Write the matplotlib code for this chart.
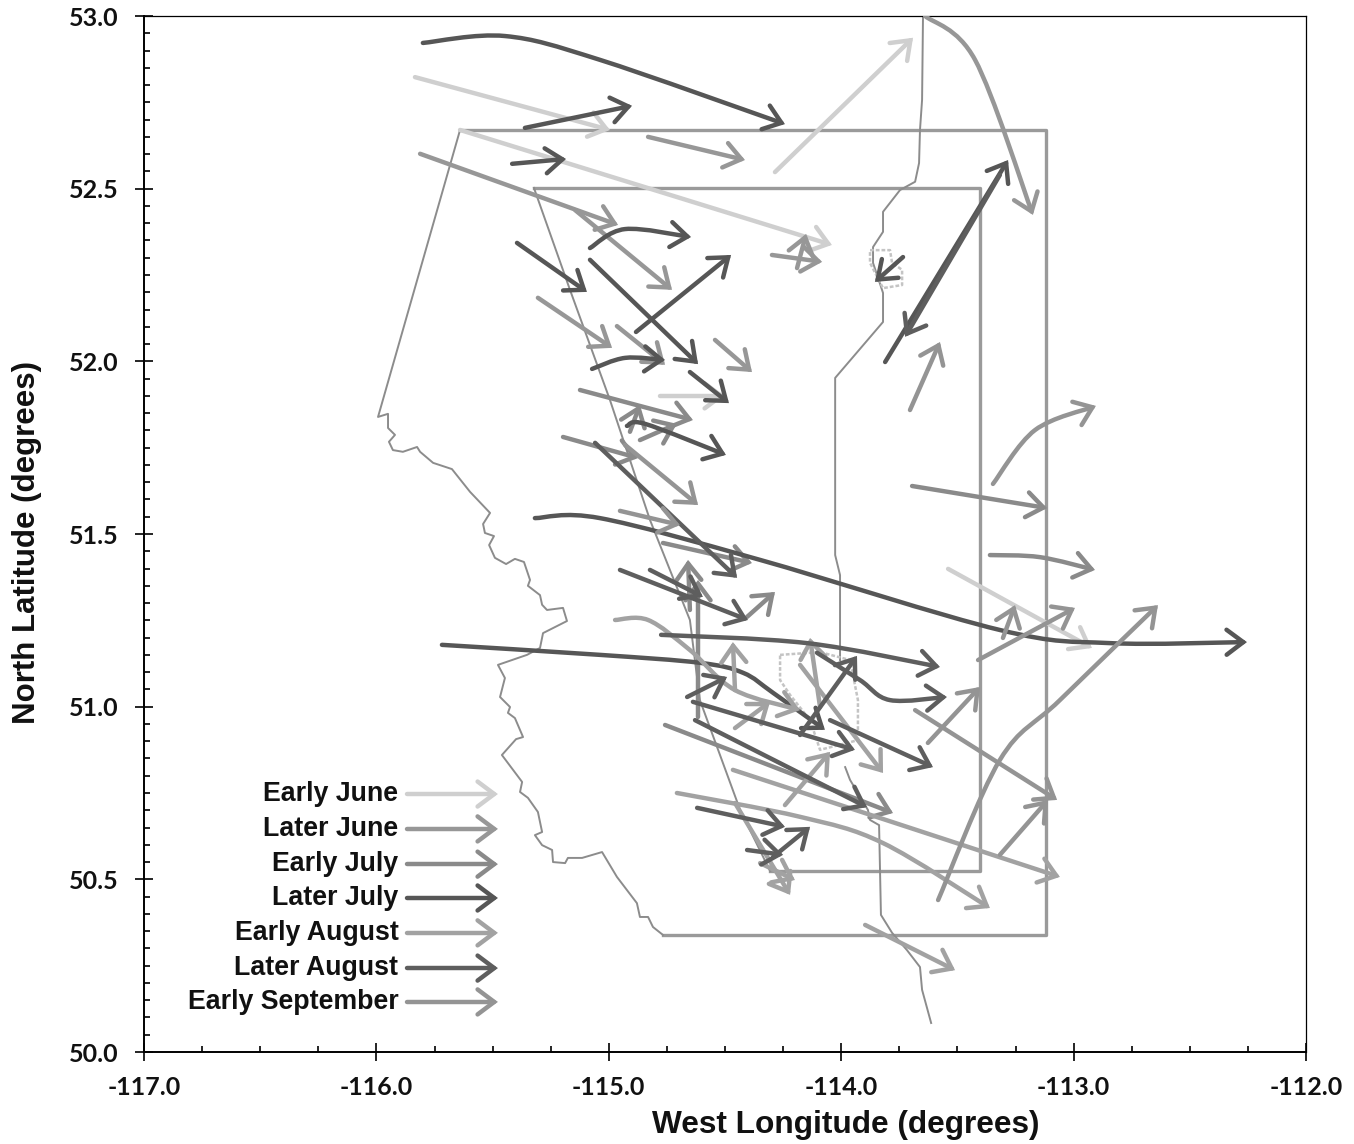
import matplotlib
matplotlib.use('Agg')
import matplotlib.pyplot as plt
import numpy as np
from matplotlib.patches import FancyArrowPatch
from matplotlib.path import Path
from matplotlib.ticker import MultipleLocator

# storm tracks, each one a list of (lon, lat) points from start to arrow tip
early_june = [
    [(-115.834, 52.823), (-114.995, 52.670)],
    [(-115.640, 52.670), (-114.040, 52.337)],
    [(-114.285, 52.548), (-113.691, 52.937)],
    [(-113.540, 51.399), (-112.921, 51.170)],
    [(-114.780, 51.900), (-114.500, 51.900)],
]
later_june = [
    [(-114.831, 52.650), (-114.414, 52.583)],
    [(-115.812, 52.601), (-114.960, 52.395)],
    [(-115.145, 52.438), (-114.728, 52.207)],
    [(-115.305, 52.184), (-114.986, 52.039)],
    [(-114.965, 52.102), (-114.758, 51.990)],
    [(-114.543, 52.062), (-114.384, 51.969)],
    [(-114.298, 52.308), (-114.082, 52.288)],
    [(-114.190, 52.270), (-114.151, 52.369)],
    [(-113.639, 53.000), (-113.424, 52.873), (-113.175, 52.424)],
]
early_july = [
    [(-115.197, 51.781), (-114.874, 51.720)],
    [(-115.124, 51.917), (-114.638, 51.830)],
    [(-114.866, 51.772), (-114.707, 51.819)],
    [(-114.909, 51.796), (-114.866, 51.874)],
    [(-114.767, 51.474), (-114.384, 51.416)],
    [(-113.360, 51.439), (-113.145, 51.433), (-112.908, 51.396)],
    [(-113.695, 51.639), (-113.114, 51.575)],
    [(-114.616, 50.970), (-114.616, 51.367)],
    [(-114.651, 51.280), (-114.659, 51.425)],
    [(-114.405, 51.260), (-114.285, 51.332)],
    [(-114.758, 50.947), (-113.777, 50.692)],
]
later_july = [
    [(-115.800, 52.922), (-115.447, 52.942), (-115.038, 52.873), (-114.242, 52.687)],
    [(-115.361, 52.676), (-114.900, 52.740)],
    [(-115.416, 52.572), (-115.184, 52.586)],
    [(-115.081, 52.328), (-114.930, 52.383), (-114.646, 52.360)],
    [(-115.395, 52.343), (-115.094, 52.201)],
    [(-115.081, 52.294), (-114.616, 51.992)],
    [(-114.883, 52.085), (-114.474, 52.308)],
    [(-115.072, 51.978), (-114.930, 52.010), (-114.758, 52.004)],
    [(-114.651, 51.969), (-114.483, 51.879)],
    [(-114.922, 51.813), (-114.844, 51.819), (-114.496, 51.729)],
    [(-113.811, 51.998), (-113.282, 52.583)],
    [(-113.734, 52.302), (-113.855, 52.230)],
    [(-115.318, 51.546), (-115.038, 51.546), (-114.349, 51.425),
     (-113.317, 51.222), (-112.843, 51.184), (-112.254, 51.187)],
    [(-115.718, 51.179), (-115.038, 51.150), (-114.608, 51.127),
     (-114.422, 51.098), (-114.293, 51.040), (-114.070, 50.933)],
]
early_august = [
    [(-114.973, 51.251), (-114.831, 51.251), (-114.651, 51.164),
     (-114.457, 51.048), (-114.177, 50.990)],
    [(-114.457, 51.048), (-114.466, 51.187)],
    [(-114.457, 50.938), (-114.306, 51.014)],
    [(-114.091, 50.999), (-114.134, 51.199)],
    [(-114.177, 51.121), (-113.820, 50.808)],
    [(-114.242, 50.715), (-114.048, 50.869)],
    [(-114.466, 50.817), (-113.059, 50.507)],
    [(-114.707, 50.750), (-114.177, 50.681), (-113.820, 50.605), (-113.360, 50.417)],
    [(-114.457, 50.721), (-114.220, 50.455)],
    [(-114.349, 50.547), (-114.199, 50.498)],
    [(-113.897, 50.368), (-113.510, 50.237)],
]
later_august = [
    [(-115.059, 51.764), (-114.448, 51.373)],
    [(-114.952, 51.396), (-114.401, 51.251)],
    [(-114.823, 51.396), (-114.595, 51.318)],
    [(-114.775, 51.208), (-114.147, 51.184), (-113.575, 51.115)],
    [(-114.104, 51.156), (-113.919, 51.077), (-113.790, 51.019), (-113.545, 51.028)],
    [(-114.663, 51.028), (-114.491, 51.086)],
    [(-114.638, 51.014), (-113.941, 50.875)],
    [(-114.629, 50.961), (-113.889, 50.709)],
    [(-114.048, 50.961), (-113.605, 50.825)],
    [(-114.177, 50.918), (-113.932, 51.147)],
    [(-114.620, 50.707), (-114.242, 50.652)],
    [(-114.405, 50.585), (-114.250, 50.571)],
    [(-114.293, 50.565), (-114.134, 50.652)],
    [(-113.317, 52.540), (-113.725, 52.071)],
]
early_september = [
    [(-114.930, 51.758), (-114.616, 51.584)],
    [(-114.952, 51.567), (-114.694, 51.526)],
    [(-113.627, 50.895), (-113.403, 51.057)],
    [(-113.682, 50.990), (-113.071, 50.730)],
    [(-113.583, 50.440), (-113.317, 50.846), (-113.059, 51.019), (-112.637, 51.294)],
    [(-113.317, 50.571), (-113.110, 50.730)],
    [(-113.411, 51.135), (-112.994, 51.286)],
    [(-113.304, 51.199), (-113.252, 51.294)],
    [(-113.704, 51.859), (-113.575, 52.056)],
    [(-113.347, 51.645), (-113.166, 51.801), (-112.904, 51.871)],
]

# map outlines
outer_box_lon = [-115.640, -113.119, -113.119, -114.767]
outer_box_lat = [52.670, 52.670, 50.339, 50.339]
inner_box_lon = [-115.322, -113.403, -113.403, -114.306]
inner_box_lat = [52.502, 52.502, 50.524, 50.524]
west_edge = [(-115.640, 52.670), (-115.993, 51.839), (-115.950, 51.848), (-115.950, 51.807),
             (-115.920, 51.787), (-115.946, 51.767), (-115.929, 51.743), (-115.886, 51.738),
             (-115.825, 51.752), (-115.812, 51.738), (-115.756, 51.706), (-115.675, 51.688),
             (-115.597, 51.622), (-115.511, 51.561), (-115.541, 51.529), (-115.533, 51.503),
             (-115.494, 51.494), (-115.515, 51.468), (-115.490, 51.431), (-115.442, 51.413),
             (-115.404, 51.428), (-115.365, 51.419), (-115.339, 51.367), (-115.348, 51.350),
             (-115.296, 51.323), (-115.287, 51.295), (-115.266, 51.280), (-115.197, 51.286),
             (-115.180, 51.248), (-115.283, 51.213), (-115.296, 51.170), (-115.352, 51.150),
             (-115.477, 51.121), (-115.447, 51.083), (-115.468, 51.028), (-115.425, 50.999),
             (-115.434, 50.982), (-115.404, 50.967), (-115.369, 50.912), (-115.399, 50.906),
             (-115.460, 50.860), (-115.373, 50.782), (-115.382, 50.753), (-115.348, 50.736),
             (-115.305, 50.695), (-115.287, 50.637), (-115.318, 50.628), (-115.287, 50.599),
             (-115.244, 50.585), (-115.240, 50.550), (-115.188, 50.547), (-115.176, 50.562),
             (-115.115, 50.562), (-115.029, 50.579), (-114.965, 50.507), (-114.879, 50.431),
             (-114.866, 50.391), (-114.831, 50.391), (-114.810, 50.362), (-114.767, 50.339)]
inner_west = [(-115.322, 52.502), (-115.167, 52.207), (-114.995, 51.888), (-114.823, 51.541),
              (-114.651, 51.251), (-114.608, 51.019), (-114.435, 50.701), (-114.306, 50.524)]
east_north = [(-113.648, 53.000), (-113.652, 52.757), (-113.661, 52.670), (-113.665, 52.574),
              (-113.682, 52.520), (-113.747, 52.496), (-113.820, 52.433), (-113.820, 52.375),
              (-113.863, 52.331), (-113.863, 52.285), (-113.820, 52.198), (-113.820, 52.114),
              (-114.026, 51.952), (-114.026, 51.439), (-114.005, 51.381), (-114.005, 51.135)]
east_south = [(-113.983, 50.825), (-113.962, 50.788), (-113.885, 50.701), (-113.876, 50.672),
              (-113.837, 50.657), (-113.829, 50.397), (-113.781, 50.345), (-113.717, 50.295),
              (-113.661, 50.246), (-113.652, 50.180), (-113.613, 50.084)]
city_north = [(-113.876, 52.322), (-113.790, 52.322), (-113.781, 52.285), (-113.738, 52.265),
              (-113.738, 52.221), (-113.820, 52.212), (-113.876, 52.285), (-113.876, 52.322)]
city_south = [(-114.263, 51.150), (-114.091, 51.158), (-113.962, 51.135), (-113.928, 51.019),
              (-113.928, 50.903), (-114.091, 50.875), (-114.134, 50.961), (-114.220, 51.034),
              (-114.263, 51.077), (-114.263, 51.150)]

# legend
legend_labels = ['Early June', 'Later June', 'Early July', 'Later July',
                 'Early August', 'Later August', 'Early September']
legend_lats = [50.747, 50.646, 50.544, 50.446, 50.345, 50.243, 50.145]
period_tracks = [early_june, later_june, early_july, later_july,
                 early_august, later_august, early_september]
period_colors = ['#cfcfcf', '#979797', '#8a8a8a', '#565656', '#a2a2a2', '#5e5e5e', '#949494']
boundary_color = '#9a9a9a'


def smooth_path(points):
    # catmull-rom through the points, as bezier segments
    pts = np.array(points, dtype=float)
    if len(pts) == 2:
        return Path(pts, [Path.MOVETO, Path.LINETO])
    verts = [pts[0]]
    codes = [Path.MOVETO]
    for i in range(len(pts) - 1):
        p0 = pts[max(i - 1, 0)]
        p1 = pts[i]
        p2 = pts[i + 1]
        p3 = pts[min(i + 2, len(pts) - 1)]
        verts += [p1 + (p2 - p0) / 6, p2 - (p3 - p1) / 6, p2]
        codes += [Path.CURVE4, Path.CURVE4, Path.CURVE4]
    return Path(np.array(verts), codes)


def draw_track(ax, points, color, lw=3.2):
    arrow = FancyArrowPatch(path=smooth_path(points), arrowstyle='->,head_length=0.6,head_width=0.45',
                            mutation_scale=20, color=color, lw=lw, capstyle='round',
                            joinstyle='miter', zorder=3, clip_on=True)
    ax.add_patch(arrow)


fig = plt.figure(figsize=(13.54, 11.44), dpi=100)
ax = fig.add_axes([144 / 1354, 1 - 1052 / 1144, (1306 - 144) / 1354, (1052 - 16) / 1144])

ax.set_xlim(-117, -112)
ax.set_ylim(50, 53)

for lon, lat in [(outer_box_lon, outer_box_lat), (inner_box_lon, inner_box_lat)]:
    ax.plot(lon, lat, color=boundary_color, lw=2.4, zorder=1)
for outline in [west_edge, inner_west, east_north, east_south]:
    ax.plot(*zip(*outline), color='#8c8c8c', lw=1.4, zorder=1)
for outline in [city_north, city_south]:
    ax.plot(*zip(*outline), color='#c4c4c4', lw=1.8, ls=(0, (1.5, 0.8)), zorder=1)

for tracks, color in zip(period_tracks, period_colors):
    for track in tracks:
        draw_track(ax, track, color)

for label, lat, color in zip(legend_labels, legend_lats, period_colors):
    ax.text(-115.905, lat, label, ha='right', va='center', fontsize=19.3, fontweight='bold',
            family='Liberation Sans', color='#111111')
    draw_track(ax, [(-115.868, lat), (-115.477, lat)], color)

ax.spines['top'].set_linewidth(0.9)
ax.spines['right'].set_linewidth(0.9)
ax.spines['left'].set_linewidth(1.4)
ax.spines['bottom'].set_linewidth(1.4)

ax.xaxis.set_major_locator(MultipleLocator(1.0))
ax.xaxis.set_minor_locator(MultipleLocator(0.25))
ax.yaxis.set_major_locator(MultipleLocator(0.5))
ax.yaxis.set_minor_locator(MultipleLocator(0.05))
ax.tick_params(which='major', direction='inout', length=13, width=1.2)
ax.tick_params(which='minor', direction='in', length=4.5, width=1.2)
ax.tick_params(axis='x', which='major', pad=11)
ax.tick_params(axis='y', which='major', pad=12)
ax.xaxis.set_major_formatter(lambda v, pos: f'{v:.1f}')
ax.yaxis.set_major_formatter(lambda v, pos: f'{v:.1f}')
for tick in ax.get_xticklabels() + ax.get_yticklabels():
    tick.set_family('Lato')
    tick.set_fontweight('bold')
    tick.set_fontsize(18)
    tick.set_color('#111111')

fig.text(846 / 1354, 1 - 1125 / 1144, 'West Longitude (degrees)', ha='center', va='center',
         fontsize=22.8, fontweight='bold', family='Liberation Sans', color='#111111')
fig.text(27 / 1354, 1 - 543 / 1144, 'North Latitude (degrees)', ha='center', va='center',
         rotation=90, fontsize=22.5, fontweight='bold', family='Liberation Sans', color='#111111')

fig.savefig('out.png', dpi=100)
